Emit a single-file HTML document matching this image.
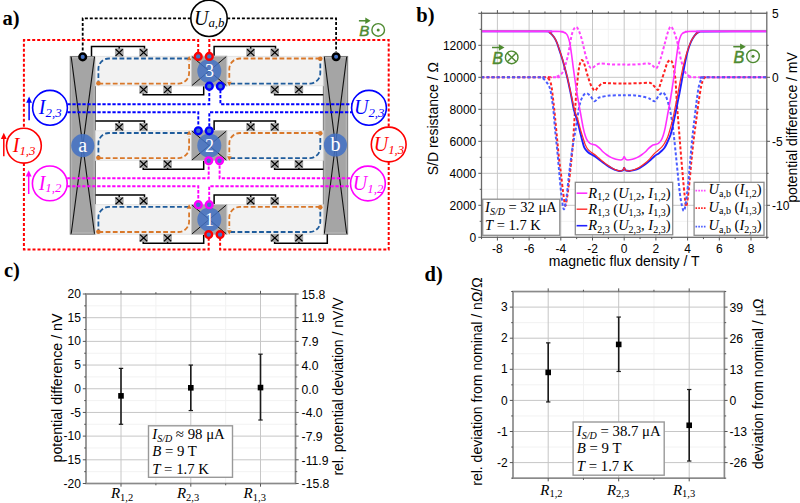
<!DOCTYPE html>
<html><head><meta charset="utf-8"><style>
html,body{margin:0;padding:0;background:#fff;width:800px;height:503px;overflow:hidden}
svg{display:block}
</style></head><body>
<svg width="800" height="503" viewBox="0 0 800 503">
<rect width="800" height="503" fill="#fff"/>
<line x1="513.25" y1="13.3" x2="513.25" y2="237.3" stroke="#f2f2f2" stroke-width="1" />
<line x1="544.95" y1="13.3" x2="544.95" y2="237.3" stroke="#f2f2f2" stroke-width="1" />
<line x1="576.65" y1="13.3" x2="576.65" y2="237.3" stroke="#f2f2f2" stroke-width="1" />
<line x1="608.35" y1="13.3" x2="608.35" y2="237.3" stroke="#f2f2f2" stroke-width="1" />
<line x1="640.05" y1="13.3" x2="640.05" y2="237.3" stroke="#f2f2f2" stroke-width="1" />
<line x1="671.75" y1="13.3" x2="671.75" y2="237.3" stroke="#f2f2f2" stroke-width="1" />
<line x1="703.45" y1="13.3" x2="703.45" y2="237.3" stroke="#f2f2f2" stroke-width="1" />
<line x1="735.15" y1="13.3" x2="735.15" y2="237.3" stroke="#f2f2f2" stroke-width="1" />
<line x1="481.5" y1="221.3" x2="766.8" y2="221.3" stroke="#f2f2f2" stroke-width="1" />
<line x1="481.5" y1="189.3" x2="766.8" y2="189.3" stroke="#f2f2f2" stroke-width="1" />
<line x1="481.5" y1="157.3" x2="766.8" y2="157.3" stroke="#f2f2f2" stroke-width="1" />
<line x1="481.5" y1="125.3" x2="766.8" y2="125.3" stroke="#f2f2f2" stroke-width="1" />
<line x1="481.5" y1="93.3" x2="766.8" y2="93.3" stroke="#f2f2f2" stroke-width="1" />
<line x1="481.5" y1="61.3" x2="766.8" y2="61.3" stroke="#f2f2f2" stroke-width="1" />
<line x1="481.5" y1="29.3" x2="766.8" y2="29.3" stroke="#f2f2f2" stroke-width="1" />
<line x1="497.4" y1="13.3" x2="497.4" y2="237.3" stroke="#c6c6c6" stroke-width="1" />
<line x1="529.1" y1="13.3" x2="529.1" y2="237.3" stroke="#c6c6c6" stroke-width="1" />
<line x1="560.8" y1="13.3" x2="560.8" y2="237.3" stroke="#c6c6c6" stroke-width="1" />
<line x1="592.5" y1="13.3" x2="592.5" y2="237.3" stroke="#c6c6c6" stroke-width="1" />
<line x1="624.2" y1="13.3" x2="624.2" y2="237.3" stroke="#c6c6c6" stroke-width="1" />
<line x1="655.9" y1="13.3" x2="655.9" y2="237.3" stroke="#c6c6c6" stroke-width="1" />
<line x1="687.6" y1="13.3" x2="687.6" y2="237.3" stroke="#c6c6c6" stroke-width="1" />
<line x1="719.3" y1="13.3" x2="719.3" y2="237.3" stroke="#c6c6c6" stroke-width="1" />
<line x1="751" y1="13.3" x2="751" y2="237.3" stroke="#c6c6c6" stroke-width="1" />
<line x1="481.5" y1="205.3" x2="766.8" y2="205.3" stroke="#c6c6c6" stroke-width="1" />
<line x1="481.5" y1="173.3" x2="766.8" y2="173.3" stroke="#c6c6c6" stroke-width="1" />
<line x1="481.5" y1="141.3" x2="766.8" y2="141.3" stroke="#c6c6c6" stroke-width="1" />
<line x1="481.5" y1="109.3" x2="766.8" y2="109.3" stroke="#c6c6c6" stroke-width="1" />
<line x1="481.5" y1="77.3" x2="766.8" y2="77.3" stroke="#c6c6c6" stroke-width="1" />
<line x1="481.5" y1="45.3" x2="766.8" y2="45.3" stroke="#c6c6c6" stroke-width="1" />
<line x1="481.5" y1="13.3" x2="766.8" y2="13.3" stroke="#c6c6c6" stroke-width="1" />
<g fill="none" stroke-linejoin="round">
<path d="M481.5,77.3 C493.42,77.3 540.58,77.35 553,77.3 C565.42,77.25 555,77.28 556,77 C557,76.72 557.83,76.52 559,75.6 C560.17,74.68 561.53,74.73 563,71.5 C564.47,68.27 566.3,62.47 567.8,56.2 C569.3,49.93 570.57,38.77 572,33.9 C573.43,29.03 574.9,26.53 576.4,27 C577.9,27.47 579.48,32.07 581,36.7 C582.52,41.33 584.13,49.93 585.5,54.8 C586.87,59.67 588.17,63.67 589.2,65.9 C590.23,68.13 590.73,68.18 591.7,68.2 C592.67,68.22 593.65,66.77 595,66 C596.35,65.23 597.3,63.88 599.8,63.6 C602.3,63.32 606.63,64.13 610,64.3 C613.37,64.47 617.63,64.55 620,64.6 C622.37,64.65 622.53,64.6 624.2,64.6 C625.87,64.6 627.37,64.67 630,64.6 C632.63,64.53 636.95,64.4 640,64.2 C643.05,64 646.22,63.18 648.3,63.4 C650.38,63.62 651.13,64.7 652.5,65.5 C653.87,66.3 655.17,69.28 656.5,68.2 C657.83,67.12 659.13,63.07 660.5,59 C661.87,54.93 663.45,48.3 664.7,43.8 C665.95,39.3 666.88,34.85 668,32 C669.12,29.15 669.97,25.47 671.4,26.7 C672.83,27.93 674.98,33.82 676.6,39.4 C678.22,44.98 679.6,54.62 681.1,60.2 C682.6,65.78 684.12,70.22 685.6,72.9 C687.08,75.58 688.43,75.57 690,76.3 C691.57,77.03 682.2,77.13 695,77.3 C707.8,77.47 754.83,77.3 766.8,77.3" stroke="#ff44ff" stroke-width="2" stroke-dasharray="3 2.1"/>
<path d="M481.5,77.3 C492.08,77.3 533.87,77.08 545,77.3 C556.13,77.52 547.3,77.48 548.3,78.6 C549.3,79.72 550.18,80.43 551,84 C551.82,87.57 552.53,94.5 553.2,100 C553.87,105.5 554.33,110.33 555,117 C555.67,123.67 556.5,132.83 557.2,140 C557.9,147.17 558.57,154.33 559.2,160 C559.83,165.67 560.35,168.63 561,174 C561.65,179.37 562.38,186.93 563.1,192.2 C563.82,197.47 564.65,204.63 565.3,205.6 C565.95,206.57 566.45,201.27 567,198 C567.55,194.73 568.05,190.67 568.6,186 C569.15,181.33 569.8,174.67 570.3,170 C570.8,165.33 571.15,162.5 571.6,158 C572.05,153.5 572.55,149 573,143 C573.45,137 573.87,128.83 574.3,122 C574.73,115.17 575.15,108.17 575.6,102 C576.05,95.83 576.43,90.67 577,85 C577.57,79.33 578.37,71.92 579,68 C579.63,64.08 580.23,62.78 580.8,61.5 C581.37,60.22 581.82,59.88 582.4,60.3 C582.98,60.72 583.43,61.45 584.3,64 C585.17,66.55 586.57,72.23 587.6,75.6 C588.63,78.97 589.55,81.9 590.5,84.2 C591.45,86.5 592.52,88.33 593.3,89.4 C594.08,90.47 594.45,90.92 595.2,90.6 C595.95,90.28 596.57,88.73 597.8,87.5 C599.03,86.27 600.57,83.9 602.6,83.2 C604.63,82.5 607.1,83.25 610,83.3 C612.9,83.35 617.63,83.47 620,83.5 C622.37,83.53 622.53,83.52 624.2,83.5 C625.87,83.48 627.37,83.45 630,83.4 C632.63,83.35 636.7,83.3 640,83.2 C643.3,83.1 647.47,82.33 649.8,82.8 C652.13,83.27 652.63,84.83 654,86 C655.37,87.17 656.83,90.47 658,89.8 C659.17,89.13 659.88,85.18 661,82 C662.12,78.82 663.62,73.95 664.7,70.7 C665.78,67.45 666.5,64.25 667.5,62.5 C668.5,60.75 669.78,59.78 670.7,60.2 C671.62,60.62 672.27,62.27 673,65 C673.73,67.73 674.6,72.77 675.1,76.6 C675.6,80.43 675.65,82.77 676,88 C676.35,93.23 676.77,101.83 677.2,108 C677.63,114.17 678.17,119.67 678.6,125 C679.03,130.33 679.38,134.75 679.8,140 C680.22,145.25 680.6,150.5 681.1,156.5 C681.6,162.5 682.22,169.58 682.8,176 C683.38,182.42 684.05,189.93 684.6,195 C685.15,200.07 685.57,205.9 686.1,206.4 C686.63,206.9 687.23,202.07 687.8,198 C688.37,193.93 688.88,188.33 689.5,182 C690.12,175.67 690.82,167 691.5,160 C692.18,153 692.92,145.83 693.6,140 C694.28,134.17 695.05,129.17 695.6,125 C696.15,120.83 696.35,119.17 696.9,115 C697.45,110.83 698.18,104.83 698.9,100 C699.62,95.17 700.52,89.33 701.2,86 C701.88,82.67 702.37,81.42 703,80 C703.63,78.58 704.33,77.95 705,77.5 C705.67,77.05 696.7,77.33 707,77.3 C717.3,77.27 756.83,77.3 766.8,77.3" stroke="#ff2020" stroke-width="2" stroke-dasharray="3 2.1"/>
<path d="M481.5,77.3 C491.08,77.3 529,77.22 539,77.3 C549,77.38 540.75,77.55 541.5,77.8 C542.25,78.05 542.75,78.18 543.5,78.8 C544.25,79.42 545.18,80.47 546,81.5 C546.82,82.53 547.67,83.58 548.4,85 C549.13,86.42 549.8,87.5 550.4,90 C551,92.5 551.5,96.67 552,100 C552.5,103.33 552.88,105 553.4,110 C553.92,115 554.47,123.33 555.1,130 C555.73,136.67 556.52,143 557.2,150 C557.88,157 558.52,164.67 559.2,172 C559.88,179.33 560.53,187.78 561.3,194 C562.07,200.22 562.95,208.63 563.8,209.3 C564.65,209.97 565.63,202.88 566.4,198 C567.17,193.12 567.75,185.67 568.4,180 C569.05,174.33 569.7,168.83 570.3,164 C570.9,159.17 571.45,154.83 572,151 C572.55,147.17 572.9,145.18 573.6,141 C574.3,136.82 575.2,131.9 576.2,125.9 C577.2,119.9 578.47,109.98 579.6,105 C580.73,100.02 581.83,97.95 583,96 C584.17,94.05 585.35,93.27 586.6,93.3 C587.85,93.33 589.22,94.88 590.5,96.2 C591.78,97.52 593.13,100.77 594.3,101.2 C595.47,101.63 596.55,99.45 597.5,98.8 C598.45,98.15 598,97.83 600,97.3 C602,96.77 606.17,95.93 609.5,95.6 C612.83,95.27 617.55,95.35 620,95.3 C622.45,95.25 621.72,95.28 624.2,95.3 C626.68,95.32 631.13,95.02 634.9,95.4 C638.67,95.78 644.12,96.92 646.8,97.6 C649.48,98.28 649.63,98.9 651,99.5 C652.37,100.1 653.75,101.78 655,101.2 C656.25,100.62 657.25,97.45 658.5,96 C659.75,94.55 661.33,92.58 662.5,92.5 C663.67,92.42 664.63,94.02 665.5,95.5 C666.37,96.98 666.95,98.98 667.7,101.4 C668.45,103.82 669.25,106.52 670,110 C670.75,113.48 671.53,117.8 672.2,122.3 C672.87,126.8 673.38,131.55 674,137 C674.62,142.45 675.27,148.83 675.9,155 C676.53,161.17 677.15,167.67 677.8,174 C678.45,180.33 679.13,187.83 679.8,193 C680.47,198.17 681.12,202.02 681.8,205 C682.48,207.98 683.2,211.4 683.9,210.9 C684.6,210.4 685.32,206.32 686,202 C686.68,197.68 687.33,191.5 688,185 C688.67,178.5 689.32,170.5 690,163 C690.68,155.5 691.53,145.83 692.1,140 C692.67,134.17 692.98,131.7 693.4,128 C693.82,124.3 694.08,122.13 694.6,117.8 C695.12,113.47 695.85,106.97 696.5,102 C697.15,97.03 697.83,91.5 698.5,88 C699.17,84.5 699.83,82.63 700.5,81 C701.17,79.37 701.75,78.82 702.5,78.2 C703.25,77.58 694.28,77.45 705,77.3 C715.72,77.15 756.5,77.3 766.8,77.3" stroke="#4a5cff" stroke-width="2" stroke-dasharray="3 2.1"/>
<path d="M481.5,31.4 C492.25,31.4 534.67,31.22 546,31.4 C557.33,31.58 548.18,31.57 549.5,32.5 C550.82,33.43 552.68,35.33 553.9,37 C555.12,38.67 555.87,40.27 556.8,42.5 C557.73,44.73 558.58,47.65 559.5,50.4 C560.42,53.15 561.38,55.95 562.3,59 C563.22,62.05 564.12,65.37 565,68.7 C565.88,72.03 566.78,75.53 567.6,79 C568.42,82.47 569.17,86 569.9,89.5 C570.63,93 571.3,96.48 572,100 C572.7,103.52 573.17,106.98 574.1,110.6 C575.03,114.22 576.68,118.47 577.6,121.7 C578.52,124.93 578.92,127.22 579.6,130 C580.28,132.78 580.97,135.6 581.7,138.4 C582.43,141.2 583.2,144.77 584,146.8 C584.8,148.83 585.63,149.55 586.5,150.6 C587.37,151.65 588,152.27 589.2,153.1 C590.4,153.93 592.23,154.65 593.7,155.6 C595.17,156.55 596.52,157.68 598,158.8 C599.48,159.92 601.1,161.2 602.6,162.3 C604.1,163.4 605.52,164.43 607,165.4 C608.48,166.37 610.17,167.37 611.5,168.1 C612.83,168.83 613.75,169.32 615,169.8 C616.25,170.28 617.7,170.9 619,171 C620.3,171.1 621.93,170.93 622.8,170.4 C623.67,169.87 623.73,167.8 624.2,167.8 C624.67,167.8 624.72,169.87 625.6,170.4 C626.48,170.93 628.1,171.03 629.5,171 C630.9,170.97 632.42,170.65 634,170.2 C635.58,169.75 637.17,169.25 639,168.3 C640.83,167.35 643.2,165.78 645,164.5 C646.8,163.22 648.22,161.98 649.8,160.6 C651.38,159.22 653.02,157.4 654.5,156.2 C655.98,155 657.45,154.35 658.7,153.4 C659.95,152.45 661,151.5 662,150.5 C663,149.5 663.78,148.82 664.7,147.4 C665.62,145.98 666.5,144.2 667.5,142 C668.5,139.8 669.78,137.03 670.7,134.2 C671.62,131.37 672.27,128.23 673,125 C673.73,121.77 674.35,118.47 675.1,114.8 C675.85,111.13 676.75,106.72 677.5,103 C678.25,99.28 678.75,97 679.6,92.5 C680.45,88 681.67,81.08 682.6,76 C683.53,70.92 684.33,66.2 685.2,62 C686.07,57.8 686.92,53.97 687.8,50.8 C688.68,47.63 689.63,45.13 690.5,43 C691.37,40.87 692.08,39.5 693,38 C693.92,36.5 695,34.97 696,34 C697,33.03 698,32.62 699,32.2 C700,31.78 690.7,31.63 702,31.5 C713.3,31.37 756,31.42 766.8,31.4" stroke="#2020ff" stroke-width="1.9"/>
<path d="M481.5,31.4 C492.25,31.4 534.67,31.23 546,31.4 C557.33,31.57 548.18,31.5 549.5,32.4 C550.82,33.3 552.68,35.17 553.9,36.8 C555.12,38.43 555.87,40 556.8,42.2 C557.73,44.4 558.58,47.28 559.5,50 C560.42,52.72 561.38,55.47 562.3,58.5 C563.22,61.53 564.12,64.87 565,68.2 C565.88,71.53 566.78,75.03 567.6,78.5 C568.42,81.97 569.13,85.5 569.9,89 C570.67,92.5 571.43,96.03 572.2,99.5 C572.97,102.97 573.5,106.25 574.5,109.8 C575.5,113.35 577.18,117.43 578.2,120.8 C579.22,124.17 579.78,127.13 580.6,130 C581.42,132.87 582.33,135.58 583.1,138 C583.87,140.42 584.47,142.7 585.2,144.5 C585.93,146.3 586.58,147.57 587.5,148.8 C588.42,150.03 589.52,150.93 590.7,151.9 C591.88,152.87 593.3,153.62 594.6,154.6 C595.9,155.58 597.13,156.65 598.5,157.8 C599.87,158.95 601.38,160.33 602.8,161.5 C604.22,162.67 605.55,163.77 607,164.8 C608.45,165.83 610.17,166.92 611.5,167.7 C612.83,168.48 613.75,168.98 615,169.5 C616.25,170.02 617.7,170.68 619,170.8 C620.3,170.92 621.93,170.73 622.8,170.2 C623.67,169.67 623.73,167.6 624.2,167.6 C624.67,167.6 624.72,169.67 625.6,170.2 C626.48,170.73 628.1,170.88 629.5,170.8 C630.9,170.72 632.42,170.25 634,169.7 C635.58,169.15 637.17,168.58 639,167.5 C640.83,166.42 643.2,164.65 645,163.2 C646.8,161.75 648.25,160.4 649.8,158.8 C651.35,157.2 652.93,154.98 654.3,153.6 C655.67,152.22 656.77,151.57 658,150.5 C659.23,149.43 660.58,148.45 661.7,147.2 C662.82,145.95 663.7,144.7 664.7,143 C665.7,141.3 666.7,139.67 667.7,137 C668.7,134.33 669.7,130.7 670.7,127 C671.7,123.3 672.82,118.8 673.7,114.8 C674.58,110.8 675.27,106.72 676,103 C676.73,99.28 677.33,96.5 678.1,92.5 C678.87,88.5 679.85,82.88 680.6,79 C681.35,75.12 681.83,72.62 682.6,69.2 C683.37,65.78 684.33,61.73 685.2,58.5 C686.07,55.27 686.92,52.47 687.8,49.8 C688.68,47.13 689.63,44.48 690.5,42.5 C691.37,40.52 692.08,39.32 693,37.9 C693.92,36.48 695,34.98 696,34 C697,33.02 698,32.42 699,32 C700,31.58 690.7,31.6 702,31.5 C713.3,31.4 756,31.42 766.8,31.4" stroke="#ff2a2a" stroke-width="1.2"/>
<path d="M481.5,31.4 C493.92,31.4 542.83,31.37 556,31.4 C569.17,31.43 559.23,31.45 560.5,31.6 C561.77,31.75 562.68,31.98 563.6,32.3 C564.52,32.62 565.3,32.85 566,33.5 C566.7,34.15 567.2,34.78 567.8,36.2 C568.4,37.62 568.98,39.03 569.6,42 C570.22,44.97 570.87,49.55 571.5,54 C572.13,58.45 572.82,64.37 573.4,68.7 C573.98,73.03 574.5,76.53 575,80 C575.5,83.47 575.85,86 576.4,89.5 C576.95,93 577.65,97.25 578.3,101 C578.95,104.75 579.5,107.62 580.3,112 C581.1,116.38 582.28,123.38 583.1,127.3 C583.92,131.22 584.5,133.32 585.2,135.5 C585.9,137.68 586.5,139.1 587.3,140.4 C588.1,141.7 588.97,142.62 590,143.3 C591.03,143.98 592.47,144.13 593.5,144.5 C594.53,144.87 595.15,144.85 596.2,145.5 C597.25,146.15 598.73,147.4 599.8,148.4 C600.87,149.4 601.4,150.4 602.6,151.5 C603.8,152.6 605.52,153.98 607,155 C608.48,156.02 610,156.9 611.5,157.6 C613,158.3 614.5,158.8 616,159.2 C617.5,159.6 619.37,160 620.5,160 C621.63,160 622.18,159.77 622.8,159.2 C623.42,158.63 623.73,156.6 624.2,156.6 C624.67,156.6 624.98,158.63 625.6,159.2 C626.22,159.77 626.77,160 627.9,160 C629.03,160 630.9,159.6 632.4,159.2 C633.9,158.8 635.4,158.3 636.9,157.6 C638.4,156.9 639.92,156.02 641.4,155 C642.88,153.98 644.6,152.6 645.8,151.5 C647,150.4 647.53,149.4 648.6,148.4 C649.67,147.4 651.15,146.15 652.2,145.5 C653.25,144.85 653.87,144.87 654.9,144.5 C655.93,144.13 657.37,143.98 658.4,143.3 C659.43,142.62 660.3,141.7 661.1,140.4 C661.9,139.1 662.5,137.68 663.2,135.5 C663.9,133.32 664.48,131.22 665.3,127.3 C666.12,123.38 667.3,116.38 668.1,112 C668.9,107.62 669.45,104.75 670.1,101 C670.75,97.25 671.45,93 672,89.5 C672.55,86 672.9,83.47 673.4,80 C673.9,76.53 674.42,73.03 675,68.7 C675.58,64.37 676.27,58.45 676.9,54 C677.53,49.55 678.18,44.97 678.8,42 C679.42,39.03 680,37.62 680.6,36.2 C681.2,34.78 681.7,34.15 682.4,33.5 C683.1,32.85 683.88,32.62 684.8,32.3 C685.72,31.98 686.63,31.75 687.9,31.6 C689.17,31.45 679.23,31.43 692.4,31.4 C705.57,31.37 754.48,31.4 766.9,31.4" stroke="#ff30ff" stroke-width="1.6"/>
</g>
<rect x="481.5" y="13.3" width="285.3" height="224" fill="none" stroke="#6a6a6a" stroke-width="1.3"/>
<line x1="481.55" y1="237.3" x2="481.55" y2="239.1" stroke="#555" stroke-width="1" />
<line x1="481.55" y1="13.3" x2="481.55" y2="11.5" stroke="#555" stroke-width="1" />
<line x1="497.4" y1="237.3" x2="497.4" y2="240.5" stroke="#555" stroke-width="1" />
<line x1="497.4" y1="13.3" x2="497.4" y2="10.1" stroke="#555" stroke-width="1" />
<line x1="513.25" y1="237.3" x2="513.25" y2="239.1" stroke="#555" stroke-width="1" />
<line x1="513.25" y1="13.3" x2="513.25" y2="11.5" stroke="#555" stroke-width="1" />
<line x1="529.1" y1="237.3" x2="529.1" y2="240.5" stroke="#555" stroke-width="1" />
<line x1="529.1" y1="13.3" x2="529.1" y2="10.1" stroke="#555" stroke-width="1" />
<line x1="544.95" y1="237.3" x2="544.95" y2="239.1" stroke="#555" stroke-width="1" />
<line x1="544.95" y1="13.3" x2="544.95" y2="11.5" stroke="#555" stroke-width="1" />
<line x1="560.8" y1="237.3" x2="560.8" y2="240.5" stroke="#555" stroke-width="1" />
<line x1="560.8" y1="13.3" x2="560.8" y2="10.1" stroke="#555" stroke-width="1" />
<line x1="576.65" y1="237.3" x2="576.65" y2="239.1" stroke="#555" stroke-width="1" />
<line x1="576.65" y1="13.3" x2="576.65" y2="11.5" stroke="#555" stroke-width="1" />
<line x1="592.5" y1="237.3" x2="592.5" y2="240.5" stroke="#555" stroke-width="1" />
<line x1="592.5" y1="13.3" x2="592.5" y2="10.1" stroke="#555" stroke-width="1" />
<line x1="608.35" y1="237.3" x2="608.35" y2="239.1" stroke="#555" stroke-width="1" />
<line x1="608.35" y1="13.3" x2="608.35" y2="11.5" stroke="#555" stroke-width="1" />
<line x1="624.2" y1="237.3" x2="624.2" y2="240.5" stroke="#555" stroke-width="1" />
<line x1="624.2" y1="13.3" x2="624.2" y2="10.1" stroke="#555" stroke-width="1" />
<line x1="640.05" y1="237.3" x2="640.05" y2="239.1" stroke="#555" stroke-width="1" />
<line x1="640.05" y1="13.3" x2="640.05" y2="11.5" stroke="#555" stroke-width="1" />
<line x1="655.9" y1="237.3" x2="655.9" y2="240.5" stroke="#555" stroke-width="1" />
<line x1="655.9" y1="13.3" x2="655.9" y2="10.1" stroke="#555" stroke-width="1" />
<line x1="671.75" y1="237.3" x2="671.75" y2="239.1" stroke="#555" stroke-width="1" />
<line x1="671.75" y1="13.3" x2="671.75" y2="11.5" stroke="#555" stroke-width="1" />
<line x1="687.6" y1="237.3" x2="687.6" y2="240.5" stroke="#555" stroke-width="1" />
<line x1="687.6" y1="13.3" x2="687.6" y2="10.1" stroke="#555" stroke-width="1" />
<line x1="703.45" y1="237.3" x2="703.45" y2="239.1" stroke="#555" stroke-width="1" />
<line x1="703.45" y1="13.3" x2="703.45" y2="11.5" stroke="#555" stroke-width="1" />
<line x1="719.3" y1="237.3" x2="719.3" y2="240.5" stroke="#555" stroke-width="1" />
<line x1="719.3" y1="13.3" x2="719.3" y2="10.1" stroke="#555" stroke-width="1" />
<line x1="735.15" y1="237.3" x2="735.15" y2="239.1" stroke="#555" stroke-width="1" />
<line x1="735.15" y1="13.3" x2="735.15" y2="11.5" stroke="#555" stroke-width="1" />
<line x1="751" y1="237.3" x2="751" y2="240.5" stroke="#555" stroke-width="1" />
<line x1="751" y1="13.3" x2="751" y2="10.1" stroke="#555" stroke-width="1" />
<line x1="766.85" y1="237.3" x2="766.85" y2="239.1" stroke="#555" stroke-width="1" />
<line x1="766.85" y1="13.3" x2="766.85" y2="11.5" stroke="#555" stroke-width="1" />
<line x1="481.5" y1="237.3" x2="478.3" y2="237.3" stroke="#555" stroke-width="1" />
<line x1="481.5" y1="221.3" x2="479.7" y2="221.3" stroke="#555" stroke-width="1" />
<line x1="481.5" y1="205.3" x2="478.3" y2="205.3" stroke="#555" stroke-width="1" />
<line x1="481.5" y1="189.3" x2="479.7" y2="189.3" stroke="#555" stroke-width="1" />
<line x1="481.5" y1="173.3" x2="478.3" y2="173.3" stroke="#555" stroke-width="1" />
<line x1="481.5" y1="157.3" x2="479.7" y2="157.3" stroke="#555" stroke-width="1" />
<line x1="481.5" y1="141.3" x2="478.3" y2="141.3" stroke="#555" stroke-width="1" />
<line x1="481.5" y1="125.3" x2="479.7" y2="125.3" stroke="#555" stroke-width="1" />
<line x1="481.5" y1="109.3" x2="478.3" y2="109.3" stroke="#555" stroke-width="1" />
<line x1="481.5" y1="93.3" x2="479.7" y2="93.3" stroke="#555" stroke-width="1" />
<line x1="481.5" y1="77.3" x2="478.3" y2="77.3" stroke="#555" stroke-width="1" />
<line x1="481.5" y1="61.3" x2="479.7" y2="61.3" stroke="#555" stroke-width="1" />
<line x1="481.5" y1="45.3" x2="478.3" y2="45.3" stroke="#555" stroke-width="1" />
<line x1="481.5" y1="29.3" x2="479.7" y2="29.3" stroke="#555" stroke-width="1" />
<line x1="481.5" y1="13.3" x2="478.3" y2="13.3" stroke="#555" stroke-width="1" />
<line x1="766.8" y1="237.3" x2="768.6" y2="237.3" stroke="#555" stroke-width="1" />
<line x1="766.8" y1="205.3" x2="770" y2="205.3" stroke="#555" stroke-width="1" />
<line x1="766.8" y1="173.3" x2="768.6" y2="173.3" stroke="#555" stroke-width="1" />
<line x1="766.8" y1="141.3" x2="770" y2="141.3" stroke="#555" stroke-width="1" />
<line x1="766.8" y1="109.3" x2="768.6" y2="109.3" stroke="#555" stroke-width="1" />
<line x1="766.8" y1="77.3" x2="770" y2="77.3" stroke="#555" stroke-width="1" />
<line x1="766.8" y1="45.3" x2="768.6" y2="45.3" stroke="#555" stroke-width="1" />
<text x="497.4" y="252.8" font-size="12" font-family='"Liberation Sans", sans-serif' text-anchor="middle" fill="#000" >-8</text>
<text x="529.1" y="252.8" font-size="12" font-family='"Liberation Sans", sans-serif' text-anchor="middle" fill="#000" >-6</text>
<text x="560.8" y="252.8" font-size="12" font-family='"Liberation Sans", sans-serif' text-anchor="middle" fill="#000" >-4</text>
<text x="592.5" y="252.8" font-size="12" font-family='"Liberation Sans", sans-serif' text-anchor="middle" fill="#000" >-2</text>
<text x="624.2" y="252.8" font-size="12" font-family='"Liberation Sans", sans-serif' text-anchor="middle" fill="#000" >0</text>
<text x="655.9" y="252.8" font-size="12" font-family='"Liberation Sans", sans-serif' text-anchor="middle" fill="#000" >2</text>
<text x="687.6" y="252.8" font-size="12" font-family='"Liberation Sans", sans-serif' text-anchor="middle" fill="#000" >4</text>
<text x="719.3" y="252.8" font-size="12" font-family='"Liberation Sans", sans-serif' text-anchor="middle" fill="#000" >6</text>
<text x="751" y="252.8" font-size="12" font-family='"Liberation Sans", sans-serif' text-anchor="middle" fill="#000" >8</text>
<text x="476.3" y="242.2" font-size="12" font-family='"Liberation Sans", sans-serif' text-anchor="end" fill="#000" >0</text>
<text x="476.3" y="210.2" font-size="12" font-family='"Liberation Sans", sans-serif' text-anchor="end" fill="#000" >2000</text>
<text x="476.3" y="178.2" font-size="12" font-family='"Liberation Sans", sans-serif' text-anchor="end" fill="#000" >4000</text>
<text x="476.3" y="146.2" font-size="12" font-family='"Liberation Sans", sans-serif' text-anchor="end" fill="#000" >6000</text>
<text x="476.3" y="114.2" font-size="12" font-family='"Liberation Sans", sans-serif' text-anchor="end" fill="#000" >8000</text>
<text x="476.3" y="82.2" font-size="12" font-family='"Liberation Sans", sans-serif' text-anchor="end" fill="#000" >10000</text>
<text x="476.3" y="50.2" font-size="12" font-family='"Liberation Sans", sans-serif' text-anchor="end" fill="#000" >12000</text>
<text x="772" y="18.4" font-size="12" font-family='"Liberation Sans", sans-serif' text-anchor="start" fill="#000" >5</text>
<text x="772" y="82.4" font-size="12" font-family='"Liberation Sans", sans-serif' text-anchor="start" fill="#000" >0</text>
<text x="772" y="146.4" font-size="12" font-family='"Liberation Sans", sans-serif' text-anchor="start" fill="#000" >-5</text>
<text x="772" y="210.4" font-size="12" font-family='"Liberation Sans", sans-serif' text-anchor="start" fill="#000" >-10</text>
<text x="624.2" y="265.5" font-size="14" font-family='"Liberation Sans", sans-serif' text-anchor="middle" fill="#000" >magnetic flux density / T</text>
<text x="0" y="0" font-size="14" font-family='"Liberation Sans", sans-serif' text-anchor="middle" fill="#000" transform="translate(438.2,118.7) rotate(-90)">S/D resistance / &#937;</text>
<text x="0" y="0" font-size="14" font-family='"Liberation Sans", sans-serif' text-anchor="middle" fill="#000" transform="translate(796.5,127.5) rotate(-90)">potential difference / mV</text>
<rect x="575.3" y="182.3" width="97.4" height="52.5" fill="#fff" stroke="#8c8c8c" stroke-width="1.3"/>
<line x1="576.6" y1="193.2" x2="587.3" y2="193.2" stroke="#ff30ff" stroke-width="1.6" />
<text x="588.3" y="197.6" font-size="14.5" font-family='"Liberation Serif", serif'><tspan font-style="italic">R</tspan><tspan font-size="10" dy="2.5">1,2</tspan><tspan dy="-2.5"> (</tspan><tspan font-style="italic">U</tspan><tspan font-size="10" dy="2.5">1,2</tspan><tspan dy="-2.5">, </tspan><tspan font-style="italic">I</tspan><tspan font-size="10" dy="2.5">1,2</tspan><tspan dy="-2.5">)</tspan></text>
<line x1="576.6" y1="209.2" x2="587.3" y2="209.2" stroke="#ff2a2a" stroke-width="1.4" />
<text x="588.3" y="213.6" font-size="14.5" font-family='"Liberation Serif", serif'><tspan font-style="italic">R</tspan><tspan font-size="10" dy="2.5">1,3</tspan><tspan dy="-2.5"> (</tspan><tspan font-style="italic">U</tspan><tspan font-size="10" dy="2.5">1,3</tspan><tspan dy="-2.5">, </tspan><tspan font-style="italic">I</tspan><tspan font-size="10" dy="2.5">1,3</tspan><tspan dy="-2.5">)</tspan></text>
<line x1="576.6" y1="225.7" x2="587.3" y2="225.7" stroke="#2020ff" stroke-width="1.6" />
<text x="588.3" y="230.1" font-size="14.5" font-family='"Liberation Serif", serif'><tspan font-style="italic">R</tspan><tspan font-size="10" dy="2.5">2,3</tspan><tspan dy="-2.5"> (</tspan><tspan font-style="italic">U</tspan><tspan font-size="10" dy="2.5">2,3</tspan><tspan dy="-2.5">, </tspan><tspan font-style="italic">I</tspan><tspan font-size="10" dy="2.5">2,3</tspan><tspan dy="-2.5">)</tspan></text>
<rect x="694.1" y="182.3" width="69.9" height="53" fill="#fff" stroke="#8c8c8c" stroke-width="1.3"/>
<line x1="695.5" y1="190.7" x2="706.6" y2="190.7" stroke="#ff44ff" stroke-width="1.8" stroke-dasharray="1.6 1.2"/>
<text x="708.5" y="194.1" font-size="14.5" font-family='"Liberation Serif", serif'><tspan font-style="italic">U</tspan><tspan font-size="10" dy="2.5">a,b</tspan><tspan dy="-2.5"> (</tspan><tspan font-style="italic">I</tspan><tspan font-size="10" dy="2.5">1,2</tspan><tspan dy="-2.5">)</tspan></text>
<line x1="695.5" y1="208.2" x2="706.6" y2="208.2" stroke="#ff2020" stroke-width="1.8" stroke-dasharray="1.6 1.2"/>
<text x="708.5" y="211.6" font-size="14.5" font-family='"Liberation Serif", serif'><tspan font-style="italic">U</tspan><tspan font-size="10" dy="2.5">a,b</tspan><tspan dy="-2.5"> (</tspan><tspan font-style="italic">I</tspan><tspan font-size="10" dy="2.5">1,3</tspan><tspan dy="-2.5">)</tspan></text>
<line x1="695.5" y1="226.7" x2="706.6" y2="226.7" stroke="#4a5cff" stroke-width="1.8" stroke-dasharray="1.6 1.2"/>
<text x="708.5" y="230.1" font-size="14.5" font-family='"Liberation Serif", serif'><tspan font-style="italic">U</tspan><tspan font-size="10" dy="2.5">a,b</tspan><tspan dy="-2.5"> (</tspan><tspan font-style="italic">I</tspan><tspan font-size="10" dy="2.5">2,3</tspan><tspan dy="-2.5">)</tspan></text>
<rect x="482.7" y="199.2" width="77.1" height="36.1" fill="#fff" stroke="#8c8c8c" stroke-width="1.3"/>
<text x="485.1" y="212.4" font-size="14.5" font-family='"Liberation Serif", serif'><tspan font-style="italic">I</tspan><tspan font-size="10" font-style="italic" dy="3">S/D</tspan><tspan dy="-3"> = 32 &#956;A</tspan></text>
<text x="485.1" y="229.7" font-size="14.5" font-family='"Liberation Serif", serif'><tspan font-style="italic">T</tspan> = 1.7 K</text>
<text x="492.3" y="63.6" font-size="16.2" font-style="italic" font-family='"Liberation Sans", sans-serif' fill="#4e8a30" stroke="#4e8a30" stroke-width="0.45">B</text>
<line x1="492" y1="47.5" x2="501.8" y2="47.5" stroke="#4e8a30" stroke-width="1.5"/>
<path d="M504.5,47.5 L498.8,44.3 L498.8,50.7 Z" fill="#4e8a30"/>
<circle cx="511.7" cy="57.4" r="6.3" fill="none" stroke="#4e8a30" stroke-width="1.4"/>
<path d="M507.25,52.95 L516.15,61.85 M507.25,61.85 L516.15,52.95" stroke="#4e8a30" stroke-width="1.4"/>
<text x="733.6" y="62.8" font-size="16.2" font-style="italic" font-family='"Liberation Sans", sans-serif' fill="#4e8a30" stroke="#4e8a30" stroke-width="0.45">B</text>
<line x1="733.3" y1="46.7" x2="743.1" y2="46.7" stroke="#4e8a30" stroke-width="1.5"/>
<path d="M745.8,46.7 L740.1,43.5 L740.1,49.9 Z" fill="#4e8a30"/>
<circle cx="753" cy="56.3" r="6.3" fill="none" stroke="#4e8a30" stroke-width="1.4"/>
<circle cx="753" cy="56.3" r="1.5" fill="#4e8a30"/>
<line x1="86" y1="471.66" x2="295.5" y2="471.66" stroke="#f2f2f2" stroke-width="1" />
<line x1="86" y1="447.97" x2="295.5" y2="447.97" stroke="#f2f2f2" stroke-width="1" />
<line x1="86" y1="424.28" x2="295.5" y2="424.28" stroke="#f2f2f2" stroke-width="1" />
<line x1="86" y1="400.59" x2="295.5" y2="400.59" stroke="#f2f2f2" stroke-width="1" />
<line x1="86" y1="376.91" x2="295.5" y2="376.91" stroke="#f2f2f2" stroke-width="1" />
<line x1="86" y1="353.22" x2="295.5" y2="353.22" stroke="#f2f2f2" stroke-width="1" />
<line x1="86" y1="329.53" x2="295.5" y2="329.53" stroke="#f2f2f2" stroke-width="1" />
<line x1="86" y1="305.84" x2="295.5" y2="305.84" stroke="#f2f2f2" stroke-width="1" />
<line x1="155.9" y1="294" x2="155.9" y2="483.5" stroke="#f2f2f2" stroke-width="1" />
<line x1="225.7" y1="294" x2="225.7" y2="483.5" stroke="#f2f2f2" stroke-width="1" />
<line x1="86" y1="459.81" x2="295.5" y2="459.81" stroke="#c6c6c6" stroke-width="1" />
<line x1="86" y1="436.12" x2="295.5" y2="436.12" stroke="#c6c6c6" stroke-width="1" />
<line x1="86" y1="412.44" x2="295.5" y2="412.44" stroke="#c6c6c6" stroke-width="1" />
<line x1="86" y1="388.75" x2="295.5" y2="388.75" stroke="#c6c6c6" stroke-width="1" />
<line x1="86" y1="365.06" x2="295.5" y2="365.06" stroke="#c6c6c6" stroke-width="1" />
<line x1="86" y1="341.38" x2="295.5" y2="341.38" stroke="#c6c6c6" stroke-width="1" />
<line x1="86" y1="317.69" x2="295.5" y2="317.69" stroke="#c6c6c6" stroke-width="1" />
<line x1="121" y1="294" x2="121" y2="483.5" stroke="#c6c6c6" stroke-width="1" />
<line x1="190.8" y1="294" x2="190.8" y2="483.5" stroke="#c6c6c6" stroke-width="1" />
<line x1="260.5" y1="294" x2="260.5" y2="483.5" stroke="#c6c6c6" stroke-width="1" />
<rect x="86" y="294" width="209.5" height="189.5" fill="none" stroke="#8a8a8a" stroke-width="1.7"/>
<line x1="86" y1="483.5" x2="82.8" y2="483.5" stroke="#555" stroke-width="1" />
<line x1="295.5" y1="483.5" x2="298.7" y2="483.5" stroke="#555" stroke-width="1" />
<line x1="86" y1="471.66" x2="84.2" y2="471.66" stroke="#555" stroke-width="1" />
<line x1="295.5" y1="471.66" x2="297.3" y2="471.66" stroke="#555" stroke-width="1" />
<line x1="86" y1="459.81" x2="82.8" y2="459.81" stroke="#555" stroke-width="1" />
<line x1="295.5" y1="459.81" x2="298.7" y2="459.81" stroke="#555" stroke-width="1" />
<line x1="86" y1="447.97" x2="84.2" y2="447.97" stroke="#555" stroke-width="1" />
<line x1="295.5" y1="447.97" x2="297.3" y2="447.97" stroke="#555" stroke-width="1" />
<line x1="86" y1="436.12" x2="82.8" y2="436.12" stroke="#555" stroke-width="1" />
<line x1="295.5" y1="436.12" x2="298.7" y2="436.12" stroke="#555" stroke-width="1" />
<line x1="86" y1="424.28" x2="84.2" y2="424.28" stroke="#555" stroke-width="1" />
<line x1="295.5" y1="424.28" x2="297.3" y2="424.28" stroke="#555" stroke-width="1" />
<line x1="86" y1="412.44" x2="82.8" y2="412.44" stroke="#555" stroke-width="1" />
<line x1="295.5" y1="412.44" x2="298.7" y2="412.44" stroke="#555" stroke-width="1" />
<line x1="86" y1="400.59" x2="84.2" y2="400.59" stroke="#555" stroke-width="1" />
<line x1="295.5" y1="400.59" x2="297.3" y2="400.59" stroke="#555" stroke-width="1" />
<line x1="86" y1="388.75" x2="82.8" y2="388.75" stroke="#555" stroke-width="1" />
<line x1="295.5" y1="388.75" x2="298.7" y2="388.75" stroke="#555" stroke-width="1" />
<line x1="86" y1="376.91" x2="84.2" y2="376.91" stroke="#555" stroke-width="1" />
<line x1="295.5" y1="376.91" x2="297.3" y2="376.91" stroke="#555" stroke-width="1" />
<line x1="86" y1="365.06" x2="82.8" y2="365.06" stroke="#555" stroke-width="1" />
<line x1="295.5" y1="365.06" x2="298.7" y2="365.06" stroke="#555" stroke-width="1" />
<line x1="86" y1="353.22" x2="84.2" y2="353.22" stroke="#555" stroke-width="1" />
<line x1="295.5" y1="353.22" x2="297.3" y2="353.22" stroke="#555" stroke-width="1" />
<line x1="86" y1="341.38" x2="82.8" y2="341.38" stroke="#555" stroke-width="1" />
<line x1="295.5" y1="341.38" x2="298.7" y2="341.38" stroke="#555" stroke-width="1" />
<line x1="86" y1="329.53" x2="84.2" y2="329.53" stroke="#555" stroke-width="1" />
<line x1="295.5" y1="329.53" x2="297.3" y2="329.53" stroke="#555" stroke-width="1" />
<line x1="86" y1="317.69" x2="82.8" y2="317.69" stroke="#555" stroke-width="1" />
<line x1="295.5" y1="317.69" x2="298.7" y2="317.69" stroke="#555" stroke-width="1" />
<line x1="86" y1="305.84" x2="84.2" y2="305.84" stroke="#555" stroke-width="1" />
<line x1="295.5" y1="305.84" x2="297.3" y2="305.84" stroke="#555" stroke-width="1" />
<line x1="86" y1="294" x2="82.8" y2="294" stroke="#555" stroke-width="1" />
<line x1="295.5" y1="294" x2="298.7" y2="294" stroke="#555" stroke-width="1" />
<line x1="121" y1="483.5" x2="121" y2="486.7" stroke="#555" stroke-width="1" />
<line x1="121" y1="294" x2="121" y2="290.8" stroke="#555" stroke-width="1" />
<line x1="190.8" y1="483.5" x2="190.8" y2="486.7" stroke="#555" stroke-width="1" />
<line x1="190.8" y1="294" x2="190.8" y2="290.8" stroke="#555" stroke-width="1" />
<line x1="260.5" y1="483.5" x2="260.5" y2="486.7" stroke="#555" stroke-width="1" />
<line x1="260.5" y1="294" x2="260.5" y2="290.8" stroke="#555" stroke-width="1" />
<line x1="155.9" y1="483.5" x2="155.9" y2="485.3" stroke="#555" stroke-width="1" />
<line x1="155.9" y1="294" x2="155.9" y2="292.2" stroke="#555" stroke-width="1" />
<line x1="225.7" y1="483.5" x2="225.7" y2="485.3" stroke="#555" stroke-width="1" />
<line x1="225.7" y1="294" x2="225.7" y2="292.2" stroke="#555" stroke-width="1" />
<text x="80.9" y="298.1" font-size="12" font-family='"Liberation Sans", sans-serif' text-anchor="end" fill="#000" >20</text>
<text x="80.9" y="321.79" font-size="12" font-family='"Liberation Sans", sans-serif' text-anchor="end" fill="#000" >15</text>
<text x="80.9" y="345.48" font-size="12" font-family='"Liberation Sans", sans-serif' text-anchor="end" fill="#000" >10</text>
<text x="80.9" y="369.16" font-size="12" font-family='"Liberation Sans", sans-serif' text-anchor="end" fill="#000" >5</text>
<text x="80.9" y="392.85" font-size="12" font-family='"Liberation Sans", sans-serif' text-anchor="end" fill="#000" >0</text>
<text x="80.9" y="416.54" font-size="12" font-family='"Liberation Sans", sans-serif' text-anchor="end" fill="#000" >-5</text>
<text x="80.9" y="440.23" font-size="12" font-family='"Liberation Sans", sans-serif' text-anchor="end" fill="#000" >-10</text>
<text x="80.9" y="463.91" font-size="12" font-family='"Liberation Sans", sans-serif' text-anchor="end" fill="#000" >-15</text>
<text x="80.9" y="487.6" font-size="12" font-family='"Liberation Sans", sans-serif' text-anchor="end" fill="#000" >-20</text>
<text x="301.6" y="298.8" font-size="12.2" font-family='"Liberation Sans", sans-serif' text-anchor="start" fill="#000" >15.8</text>
<text x="301.6" y="322.49" font-size="12.2" font-family='"Liberation Sans", sans-serif' text-anchor="start" fill="#000" >11.9</text>
<text x="301.6" y="346.18" font-size="12.2" font-family='"Liberation Sans", sans-serif' text-anchor="start" fill="#000" >7.9</text>
<text x="301.6" y="369.86" font-size="12.2" font-family='"Liberation Sans", sans-serif' text-anchor="start" fill="#000" >4.0</text>
<text x="301.6" y="393.55" font-size="12.2" font-family='"Liberation Sans", sans-serif' text-anchor="start" fill="#000" >0.0</text>
<text x="301.6" y="417.24" font-size="12.2" font-family='"Liberation Sans", sans-serif' text-anchor="start" fill="#000" >-4.0</text>
<text x="301.6" y="440.93" font-size="12.2" font-family='"Liberation Sans", sans-serif' text-anchor="start" fill="#000" >-7.9</text>
<text x="301.6" y="464.61" font-size="12.2" font-family='"Liberation Sans", sans-serif' text-anchor="start" fill="#000" >-11.9</text>
<text x="301.6" y="488.3" font-size="12.2" font-family='"Liberation Sans", sans-serif' text-anchor="start" fill="#000" >-15.8</text>
<rect x="148.5" y="425.8" width="84" height="51.5" fill="#fff" stroke="#999" stroke-width="1.4"/>
<text x="152.2" y="438.8" font-size="14.8" font-family='"Liberation Serif", serif'><tspan font-style="italic">I</tspan><tspan font-size="10" dy="3.5" font-style="italic">S/D</tspan><tspan dy="-3.5"> &#8776; 98 &#956;A</tspan></text>
<text x="152.2" y="456.4" font-size="14.8" font-family='"Liberation Serif", serif'><tspan font-style="italic">B</tspan> = 9 T</text>
<text x="152.2" y="473.7" font-size="14.8" font-family='"Liberation Serif", serif'><tspan font-style="italic">T</tspan> = 1.7 K</text>
<line x1="121" y1="368.38" x2="121" y2="424.28" stroke="#1a1a1a" stroke-width="1.6" />
<line x1="118.8" y1="368.38" x2="123.2" y2="368.38" stroke="#1a1a1a" stroke-width="1.2" />
<line x1="118.8" y1="424.28" x2="123.2" y2="424.28" stroke="#1a1a1a" stroke-width="1.2" />
<rect x="118.2" y="393.06" width="5.6" height="5.6" fill="#000"/>
<line x1="190.8" y1="365.06" x2="190.8" y2="410.54" stroke="#1a1a1a" stroke-width="1.6" />
<line x1="188.6" y1="365.06" x2="193" y2="365.06" stroke="#1a1a1a" stroke-width="1.2" />
<line x1="188.6" y1="410.54" x2="193" y2="410.54" stroke="#1a1a1a" stroke-width="1.2" />
<rect x="188" y="385" width="5.6" height="5.6" fill="#000"/>
<line x1="260.5" y1="354.17" x2="260.5" y2="420.02" stroke="#1a1a1a" stroke-width="1.6" />
<line x1="258.3" y1="354.17" x2="262.7" y2="354.17" stroke="#1a1a1a" stroke-width="1.2" />
<line x1="258.3" y1="420.02" x2="262.7" y2="420.02" stroke="#1a1a1a" stroke-width="1.2" />
<rect x="257.7" y="384.77" width="5.6" height="5.6" fill="#000"/>
<text x="110.9" y="498.4" font-size="15" font-family='"Liberation Serif", serif'><tspan font-style="italic">R</tspan><tspan font-size="10.5" dy="2.6">1,2</tspan></text>
<text x="176.9" y="498.4" font-size="15" font-family='"Liberation Serif", serif'><tspan font-style="italic">R</tspan><tspan font-size="10.5" dy="2.6">2,3</tspan></text>
<text x="243.6" y="498.4" font-size="15" font-family='"Liberation Serif", serif'><tspan font-style="italic">R</tspan><tspan font-size="10.5" dy="2.6">1,3</tspan></text>
<text x="0" y="0" font-size="14.2" font-family='"Liberation Sans", sans-serif' text-anchor="middle" fill="#000" transform="translate(61.8,388) rotate(-90)">potential difference / nV</text>
<text x="0" y="0" font-size="14" font-family='"Liberation Sans", sans-serif' text-anchor="middle" fill="#000" transform="translate(342.6,386.5) rotate(-90)">rel. potential deviation / nV/V</text>
<line x1="513" y1="447.05" x2="724.4" y2="447.05" stroke="#f2f2f2" stroke-width="1" />
<line x1="513" y1="415.95" x2="724.4" y2="415.95" stroke="#f2f2f2" stroke-width="1" />
<line x1="513" y1="384.85" x2="724.4" y2="384.85" stroke="#f2f2f2" stroke-width="1" />
<line x1="513" y1="353.75" x2="724.4" y2="353.75" stroke="#f2f2f2" stroke-width="1" />
<line x1="513" y1="322.65" x2="724.4" y2="322.65" stroke="#f2f2f2" stroke-width="1" />
<line x1="583.45" y1="291.55" x2="583.45" y2="478.15" stroke="#f2f2f2" stroke-width="1" />
<line x1="653.95" y1="291.55" x2="653.95" y2="478.15" stroke="#f2f2f2" stroke-width="1" />
<line x1="513" y1="462.6" x2="724.4" y2="462.6" stroke="#c6c6c6" stroke-width="1" />
<line x1="513" y1="431.5" x2="724.4" y2="431.5" stroke="#c6c6c6" stroke-width="1" />
<line x1="513" y1="400.4" x2="724.4" y2="400.4" stroke="#c6c6c6" stroke-width="1" />
<line x1="513" y1="369.3" x2="724.4" y2="369.3" stroke="#c6c6c6" stroke-width="1" />
<line x1="513" y1="338.2" x2="724.4" y2="338.2" stroke="#c6c6c6" stroke-width="1" />
<line x1="513" y1="307.1" x2="724.4" y2="307.1" stroke="#c6c6c6" stroke-width="1" />
<line x1="548.2" y1="291.55" x2="548.2" y2="478.15" stroke="#c6c6c6" stroke-width="1" />
<line x1="618.7" y1="291.55" x2="618.7" y2="478.15" stroke="#c6c6c6" stroke-width="1" />
<line x1="689.2" y1="291.55" x2="689.2" y2="478.15" stroke="#c6c6c6" stroke-width="1" />
<rect x="513" y="291.55" width="211.4" height="186.6" fill="none" stroke="#8a8a8a" stroke-width="1.7"/>
<line x1="513" y1="478.15" x2="511.2" y2="478.15" stroke="#555" stroke-width="1" />
<line x1="724.4" y1="478.15" x2="726.2" y2="478.15" stroke="#555" stroke-width="1" />
<line x1="513" y1="462.6" x2="509.8" y2="462.6" stroke="#555" stroke-width="1" />
<line x1="724.4" y1="462.6" x2="727.6" y2="462.6" stroke="#555" stroke-width="1" />
<line x1="513" y1="447.05" x2="511.2" y2="447.05" stroke="#555" stroke-width="1" />
<line x1="724.4" y1="447.05" x2="726.2" y2="447.05" stroke="#555" stroke-width="1" />
<line x1="513" y1="431.5" x2="509.8" y2="431.5" stroke="#555" stroke-width="1" />
<line x1="724.4" y1="431.5" x2="727.6" y2="431.5" stroke="#555" stroke-width="1" />
<line x1="513" y1="415.95" x2="511.2" y2="415.95" stroke="#555" stroke-width="1" />
<line x1="724.4" y1="415.95" x2="726.2" y2="415.95" stroke="#555" stroke-width="1" />
<line x1="513" y1="400.4" x2="509.8" y2="400.4" stroke="#555" stroke-width="1" />
<line x1="724.4" y1="400.4" x2="727.6" y2="400.4" stroke="#555" stroke-width="1" />
<line x1="513" y1="384.85" x2="511.2" y2="384.85" stroke="#555" stroke-width="1" />
<line x1="724.4" y1="384.85" x2="726.2" y2="384.85" stroke="#555" stroke-width="1" />
<line x1="513" y1="369.3" x2="509.8" y2="369.3" stroke="#555" stroke-width="1" />
<line x1="724.4" y1="369.3" x2="727.6" y2="369.3" stroke="#555" stroke-width="1" />
<line x1="513" y1="353.75" x2="511.2" y2="353.75" stroke="#555" stroke-width="1" />
<line x1="724.4" y1="353.75" x2="726.2" y2="353.75" stroke="#555" stroke-width="1" />
<line x1="513" y1="338.2" x2="509.8" y2="338.2" stroke="#555" stroke-width="1" />
<line x1="724.4" y1="338.2" x2="727.6" y2="338.2" stroke="#555" stroke-width="1" />
<line x1="513" y1="322.65" x2="511.2" y2="322.65" stroke="#555" stroke-width="1" />
<line x1="724.4" y1="322.65" x2="726.2" y2="322.65" stroke="#555" stroke-width="1" />
<line x1="513" y1="307.1" x2="509.8" y2="307.1" stroke="#555" stroke-width="1" />
<line x1="724.4" y1="307.1" x2="727.6" y2="307.1" stroke="#555" stroke-width="1" />
<line x1="513" y1="291.55" x2="511.2" y2="291.55" stroke="#555" stroke-width="1" />
<line x1="724.4" y1="291.55" x2="726.2" y2="291.55" stroke="#555" stroke-width="1" />
<line x1="548.2" y1="478.15" x2="548.2" y2="481.35" stroke="#555" stroke-width="1" />
<line x1="548.2" y1="291.55" x2="548.2" y2="288.35" stroke="#555" stroke-width="1" />
<line x1="618.7" y1="478.15" x2="618.7" y2="481.35" stroke="#555" stroke-width="1" />
<line x1="618.7" y1="291.55" x2="618.7" y2="288.35" stroke="#555" stroke-width="1" />
<line x1="689.2" y1="478.15" x2="689.2" y2="481.35" stroke="#555" stroke-width="1" />
<line x1="689.2" y1="291.55" x2="689.2" y2="288.35" stroke="#555" stroke-width="1" />
<line x1="583.45" y1="478.15" x2="583.45" y2="479.95" stroke="#555" stroke-width="1" />
<line x1="583.45" y1="291.55" x2="583.45" y2="289.75" stroke="#555" stroke-width="1" />
<line x1="653.95" y1="478.15" x2="653.95" y2="479.95" stroke="#555" stroke-width="1" />
<line x1="653.95" y1="291.55" x2="653.95" y2="289.75" stroke="#555" stroke-width="1" />
<text x="507.6" y="311.2" font-size="12" font-family='"Liberation Sans", sans-serif' text-anchor="end" fill="#000" >3</text>
<text x="507.6" y="342.3" font-size="12" font-family='"Liberation Sans", sans-serif' text-anchor="end" fill="#000" >2</text>
<text x="507.6" y="373.4" font-size="12" font-family='"Liberation Sans", sans-serif' text-anchor="end" fill="#000" >1</text>
<text x="507.6" y="404.5" font-size="12" font-family='"Liberation Sans", sans-serif' text-anchor="end" fill="#000" >0</text>
<text x="507.6" y="435.6" font-size="12" font-family='"Liberation Sans", sans-serif' text-anchor="end" fill="#000" >-1</text>
<text x="507.6" y="466.7" font-size="12" font-family='"Liberation Sans", sans-serif' text-anchor="end" fill="#000" >-2</text>
<text x="729.5" y="311.9" font-size="12.2" font-family='"Liberation Sans", sans-serif' text-anchor="start" fill="#000" >39</text>
<text x="729.5" y="343" font-size="12.2" font-family='"Liberation Sans", sans-serif' text-anchor="start" fill="#000" >26</text>
<text x="729.5" y="374.1" font-size="12.2" font-family='"Liberation Sans", sans-serif' text-anchor="start" fill="#000" >13</text>
<text x="729.5" y="405.2" font-size="12.2" font-family='"Liberation Sans", sans-serif' text-anchor="start" fill="#000" >0</text>
<text x="729.5" y="436.3" font-size="12.2" font-family='"Liberation Sans", sans-serif' text-anchor="start" fill="#000" >-13</text>
<text x="729.5" y="467.4" font-size="12.2" font-family='"Liberation Sans", sans-serif' text-anchor="start" fill="#000" >-26</text>
<rect x="573.1" y="422" width="91.1" height="53.2" fill="#fff" stroke="#999" stroke-width="1.4"/>
<text x="576.8" y="435.9" font-size="14.8" font-family='"Liberation Serif", serif'><tspan font-style="italic">I</tspan><tspan font-size="10" dy="3.5" font-style="italic">S/D</tspan><tspan dy="-3.5"> = 38.7 &#956;A</tspan></text>
<text x="576.8" y="452.9" font-size="14.8" font-family='"Liberation Serif", serif'><tspan font-style="italic">B</tspan> = 9 T</text>
<text x="576.8" y="470.5" font-size="14.8" font-family='"Liberation Serif", serif'><tspan font-style="italic">T</tspan> = 1.7 K</text>
<line x1="548.2" y1="342.86" x2="548.2" y2="401.95" stroke="#1a1a1a" stroke-width="1.6" />
<line x1="546" y1="342.86" x2="550.4" y2="342.86" stroke="#1a1a1a" stroke-width="1.2" />
<line x1="546" y1="401.95" x2="550.4" y2="401.95" stroke="#1a1a1a" stroke-width="1.2" />
<rect x="545.4" y="369.61" width="5.6" height="5.6" fill="#000"/>
<line x1="618.7" y1="317.05" x2="618.7" y2="371.48" stroke="#1a1a1a" stroke-width="1.6" />
<line x1="616.5" y1="317.05" x2="620.9" y2="317.05" stroke="#1a1a1a" stroke-width="1.2" />
<line x1="616.5" y1="371.48" x2="620.9" y2="371.48" stroke="#1a1a1a" stroke-width="1.2" />
<rect x="615.9" y="341.62" width="5.6" height="5.6" fill="#000"/>
<line x1="689.2" y1="389.51" x2="689.2" y2="461.04" stroke="#1a1a1a" stroke-width="1.6" />
<line x1="687" y1="389.51" x2="691.4" y2="389.51" stroke="#1a1a1a" stroke-width="1.2" />
<line x1="687" y1="461.04" x2="691.4" y2="461.04" stroke="#1a1a1a" stroke-width="1.2" />
<rect x="686.4" y="422.48" width="5.6" height="5.6" fill="#000"/>
<text x="540.3" y="494.5" font-size="15" font-family='"Liberation Serif", serif'><tspan font-style="italic">R</tspan><tspan font-size="10.5" dy="2.6">1,2</tspan></text>
<text x="606.9" y="494.5" font-size="15" font-family='"Liberation Serif", serif'><tspan font-style="italic">R</tspan><tspan font-size="10.5" dy="2.6">2,3</tspan></text>
<text x="672.9" y="494.5" font-size="15" font-family='"Liberation Serif", serif'><tspan font-style="italic">R</tspan><tspan font-size="10.5" dy="2.6">1,3</tspan></text>
<text x="0" y="0" font-size="14" font-family='"Liberation Sans", sans-serif' text-anchor="middle" fill="#000" transform="translate(482,381.5) rotate(-90)">rel. deviation from nominal / n&#937;/&#937;</text>
<text x="0" y="0" font-size="14" font-family='"Liberation Sans", sans-serif' text-anchor="middle" fill="#000" transform="translate(763.3,383.7) rotate(-90)">deviation from nominal / <tspan font-family="Liberation Serif, serif">&#956;</tspan>&#937;</text>
<rect x="70.2" y="56.4" width="25.3" height="177.8" fill="#a5a5a5" stroke="#707070" stroke-width="0.9"/>
<rect x="71.5" y="57.7" width="22.7" height="175.2" fill="none" stroke="#b4b4b4" stroke-width="1.4"/>
<path d="M71.2,56.9 L82.8,145.6 L94.5,233.7 M94.5,56.9 L82.8,145.6 L71.2,233.7" fill="none" stroke="#111" stroke-width="1.1"/>
<rect x="323.3" y="56.4" width="24.4" height="177.8" fill="#a5a5a5" stroke="#707070" stroke-width="0.9"/>
<rect x="324.6" y="57.7" width="21.8" height="175.2" fill="none" stroke="#b4b4b4" stroke-width="1.4"/>
<path d="M324.3,56.9 L335.4,145 L346.7,233.7 M346.7,56.9 L335.4,145 L324.3,233.7" fill="none" stroke="#111" stroke-width="1.1"/>
<rect x="95.5" y="56.3" width="96" height="29.5" fill="#f2f2f2" stroke="#dedede" stroke-width="0.8"/>
<rect x="226.8" y="56.3" width="96.5" height="29.5" fill="#f2f2f2" stroke="#dedede" stroke-width="0.8"/>
<rect x="95.5" y="130.8" width="96" height="29.5" fill="#f2f2f2" stroke="#dedede" stroke-width="0.8"/>
<rect x="226.8" y="130.8" width="96.5" height="29.5" fill="#f2f2f2" stroke="#dedede" stroke-width="0.8"/>
<rect x="95.5" y="204.7" width="96" height="29.5" fill="#f2f2f2" stroke="#dedede" stroke-width="0.8"/>
<rect x="226.8" y="204.7" width="96.5" height="29.5" fill="#f2f2f2" stroke="#dedede" stroke-width="0.8"/>
<path d="M190.8,18.3 H82.7 V52" fill="none" stroke="#000" stroke-width="1.8" stroke-dasharray="3 1.9"/>
<path d="M227.2,18.3 H336.1 V52" fill="none" stroke="#000" stroke-width="1.8" stroke-dasharray="3 1.9"/>
<path d="M198.2,52 V40 H23.9 V128.3" fill="none" stroke="#ff0000" stroke-width="2" stroke-dasharray="3 2"/>
<path d="M23.9,163.1 V249.5 H208.7 V238.5" fill="none" stroke="#ff0000" stroke-width="2" stroke-dasharray="3 2"/>
<path d="M209.3,52 V40 H388.7 V127.1" fill="none" stroke="#ff0000" stroke-width="2" stroke-dasharray="3 2"/>
<path d="M388.7,161.9 V249.5 H220.1 V238.5" fill="none" stroke="#ff0000" stroke-width="2" stroke-dasharray="3 2"/>
<path d="M67.4,104.3 H209.3 V90" fill="none" stroke="#0000ff" stroke-width="1.9" stroke-dasharray="3.3 1.7"/>
<path d="M67.4,112.2 H198.3 V126.5" fill="none" stroke="#0000ff" stroke-width="1.9" stroke-dasharray="3.3 1.7"/>
<path d="M220.4,90 V104.3 H352" fill="none" stroke="#0000ff" stroke-width="1.9" stroke-dasharray="3.3 1.7"/>
<path d="M209.3,126.5 V112.2 H352" fill="none" stroke="#0000ff" stroke-width="1.9" stroke-dasharray="3.3 1.7"/>
<path d="M67.2,178.3 H208.7 V165.5" fill="none" stroke="#ff00ff" stroke-width="1.9" stroke-dasharray="3.3 1.7"/>
<path d="M67.2,186.2 H198.3 V200" fill="none" stroke="#ff00ff" stroke-width="1.9" stroke-dasharray="3.3 1.7"/>
<path d="M219.6,165.5 V178.3 H350.5" fill="none" stroke="#ff00ff" stroke-width="1.9" stroke-dasharray="3.3 1.7"/>
<path d="M209.2,200 V186.2 H350.5" fill="none" stroke="#ff00ff" stroke-width="1.9" stroke-dasharray="3.3 1.7"/>
<path d="M189.1,58.5 H108.9 A10.5,10.5 0 0 0 98.4,69 V83.6" fill="none" stroke="#1f5c9c" stroke-width="1.8" stroke-dasharray="4.8 2.4"/>
<path d="M98.4,83.6 H178.6 A10.5,10.5 0 0 0 189.1,73.1 V61.5" fill="none" stroke="#d9782a" stroke-width="1.8" stroke-dasharray="4.8 2.4"/>
<circle cx="98.4" cy="83.3" r="2.3" fill="#d9782a"/>
<path d="M189.1,55.9 L186.7,60.3 L191.5,60.3 Z" fill="#d9782a"/>
<path d="M320.3,58.5 H239.8 A10.5,10.5 0 0 0 229.3,69 V80.6" fill="none" stroke="#d9782a" stroke-width="1.8" stroke-dasharray="4.8 2.4"/>
<path d="M230.3,83.6 H309.8 A10.5,10.5 0 0 0 320.3,73.1 V58.5" fill="none" stroke="#1f5c9c" stroke-width="1.8" stroke-dasharray="4.8 2.4"/>
<circle cx="320.3" cy="58.8" r="2.3" fill="#d9782a"/>
<path d="M229.3,86.2 L226.9,81.8 L231.7,81.8 Z" fill="#d9782a"/>
<path d="M189.1,133 H108.9 A10.5,10.5 0 0 0 98.4,143.5 V158.1" fill="none" stroke="#1f5c9c" stroke-width="1.8" stroke-dasharray="4.8 2.4"/>
<path d="M98.4,158.1 H178.6 A10.5,10.5 0 0 0 189.1,147.6 V136" fill="none" stroke="#d9782a" stroke-width="1.8" stroke-dasharray="4.8 2.4"/>
<circle cx="98.4" cy="157.8" r="2.3" fill="#d9782a"/>
<path d="M189.1,130.4 L186.7,134.8 L191.5,134.8 Z" fill="#d9782a"/>
<path d="M320.3,133 H239.8 A10.5,10.5 0 0 0 229.3,143.5 V155.1" fill="none" stroke="#d9782a" stroke-width="1.8" stroke-dasharray="4.8 2.4"/>
<path d="M230.3,158.1 H309.8 A10.5,10.5 0 0 0 320.3,147.6 V133" fill="none" stroke="#1f5c9c" stroke-width="1.8" stroke-dasharray="4.8 2.4"/>
<circle cx="320.3" cy="133.3" r="2.3" fill="#d9782a"/>
<path d="M229.3,160.7 L226.9,156.3 L231.7,156.3 Z" fill="#d9782a"/>
<path d="M189.1,206.9 H108.9 A10.5,10.5 0 0 0 98.4,217.4 V232" fill="none" stroke="#1f5c9c" stroke-width="1.8" stroke-dasharray="4.8 2.4"/>
<path d="M98.4,232 H178.6 A10.5,10.5 0 0 0 189.1,221.5 V209.9" fill="none" stroke="#d9782a" stroke-width="1.8" stroke-dasharray="4.8 2.4"/>
<circle cx="98.4" cy="231.7" r="2.3" fill="#d9782a"/>
<path d="M189.1,204.3 L186.7,208.7 L191.5,208.7 Z" fill="#d9782a"/>
<path d="M320.3,206.9 H239.8 A10.5,10.5 0 0 0 229.3,217.4 V229" fill="none" stroke="#d9782a" stroke-width="1.8" stroke-dasharray="4.8 2.4"/>
<path d="M230.3,232 H309.8 A10.5,10.5 0 0 0 320.3,221.5 V206.9" fill="none" stroke="#1f5c9c" stroke-width="1.8" stroke-dasharray="4.8 2.4"/>
<circle cx="320.3" cy="207.2" r="2.3" fill="#d9782a"/>
<path d="M229.3,234.6 L226.9,230.2 L231.7,230.2 Z" fill="#d9782a"/>
<path d="M91.5,56.1 V46.5 H144.5 V49.1 M119.2,46.5 V49.1" stroke="#000" stroke-width="1.5" fill="none"/>
<path d="M214.1,56.1 V46.5 H275.5 V49.1 M250.7,46.5 V49.1" stroke="#000" stroke-width="1.5" fill="none"/>
<path d="M203.7,86 V94.8 H143.2 V93 M167.6,94.8 V93" stroke="#000" stroke-width="1.5" fill="none"/>
<path d="M323.3,94.8 H274.6 V93 M298.9,94.8 V93" stroke="#000" stroke-width="1.5" fill="none"/>
<rect x="115.2" y="48.8" width="8" height="7.5" fill="#a9a9a9" stroke="#999" stroke-width="0.5"/>
<path d="M115.6,49.2 L122.8,55.9 M115.6,55.9 L122.8,49.2" stroke="#000" stroke-width="1.2"/>
<rect x="139.6" y="48.8" width="8" height="7.5" fill="#a9a9a9" stroke="#999" stroke-width="0.5"/>
<path d="M140,49.2 L147.2,55.9 M140,55.9 L147.2,49.2" stroke="#000" stroke-width="1.2"/>
<rect x="246.7" y="48.8" width="8" height="7.5" fill="#a9a9a9" stroke="#999" stroke-width="0.5"/>
<path d="M247.1,49.2 L254.3,55.9 M247.1,55.9 L254.3,49.2" stroke="#000" stroke-width="1.2"/>
<rect x="270.8" y="48.8" width="8" height="7.5" fill="#a9a9a9" stroke="#999" stroke-width="0.5"/>
<path d="M271.2,49.2 L278.4,55.9 M271.2,55.9 L278.4,49.2" stroke="#000" stroke-width="1.2"/>
<rect x="139.6" y="85.8" width="8" height="7.5" fill="#a9a9a9" stroke="#999" stroke-width="0.5"/>
<path d="M140,86.2 L147.2,92.9 M140,92.9 L147.2,86.2" stroke="#000" stroke-width="1.2"/>
<rect x="163.6" y="85.8" width="8" height="7.5" fill="#a9a9a9" stroke="#999" stroke-width="0.5"/>
<path d="M164,86.2 L171.2,92.9 M164,92.9 L171.2,86.2" stroke="#000" stroke-width="1.2"/>
<rect x="270.8" y="85.8" width="8" height="7.5" fill="#a9a9a9" stroke="#999" stroke-width="0.5"/>
<path d="M271.2,86.2 L278.4,92.9 M271.2,92.9 L278.4,86.2" stroke="#000" stroke-width="1.2"/>
<rect x="294.9" y="85.8" width="8" height="7.5" fill="#a9a9a9" stroke="#999" stroke-width="0.5"/>
<path d="M295.3,86.2 L302.5,92.9 M295.3,92.9 L302.5,86.2" stroke="#000" stroke-width="1.2"/>
<path d="M95.5,121 H144.5 V123.6 M119.2,121 V123.6" stroke="#000" stroke-width="1.5" fill="none"/>
<path d="M214.1,130.6 V121 H275.5 V123.6 M250.7,121 V123.6" stroke="#000" stroke-width="1.5" fill="none"/>
<path d="M203.7,160.5 V169.3 H143.2 V167.5 M167.6,169.3 V167.5" stroke="#000" stroke-width="1.5" fill="none"/>
<path d="M323.3,169.3 H274.6 V167.5 M298.9,169.3 V167.5" stroke="#000" stroke-width="1.5" fill="none"/>
<rect x="115.2" y="123.3" width="8" height="7.5" fill="#a9a9a9" stroke="#999" stroke-width="0.5"/>
<path d="M115.6,123.7 L122.8,130.4 M115.6,130.4 L122.8,123.7" stroke="#000" stroke-width="1.2"/>
<rect x="139.6" y="123.3" width="8" height="7.5" fill="#a9a9a9" stroke="#999" stroke-width="0.5"/>
<path d="M140,123.7 L147.2,130.4 M140,130.4 L147.2,123.7" stroke="#000" stroke-width="1.2"/>
<rect x="246.7" y="123.3" width="8" height="7.5" fill="#a9a9a9" stroke="#999" stroke-width="0.5"/>
<path d="M247.1,123.7 L254.3,130.4 M247.1,130.4 L254.3,123.7" stroke="#000" stroke-width="1.2"/>
<rect x="270.8" y="123.3" width="8" height="7.5" fill="#a9a9a9" stroke="#999" stroke-width="0.5"/>
<path d="M271.2,123.7 L278.4,130.4 M271.2,130.4 L278.4,123.7" stroke="#000" stroke-width="1.2"/>
<rect x="139.6" y="160.3" width="8" height="7.5" fill="#a9a9a9" stroke="#999" stroke-width="0.5"/>
<path d="M140,160.7 L147.2,167.4 M140,167.4 L147.2,160.7" stroke="#000" stroke-width="1.2"/>
<rect x="163.6" y="160.3" width="8" height="7.5" fill="#a9a9a9" stroke="#999" stroke-width="0.5"/>
<path d="M164,160.7 L171.2,167.4 M164,167.4 L171.2,160.7" stroke="#000" stroke-width="1.2"/>
<rect x="270.8" y="160.3" width="8" height="7.5" fill="#a9a9a9" stroke="#999" stroke-width="0.5"/>
<path d="M271.2,160.7 L278.4,167.4 M271.2,167.4 L278.4,160.7" stroke="#000" stroke-width="1.2"/>
<rect x="294.9" y="160.3" width="8" height="7.5" fill="#a9a9a9" stroke="#999" stroke-width="0.5"/>
<path d="M295.3,160.7 L302.5,167.4 M295.3,167.4 L302.5,160.7" stroke="#000" stroke-width="1.2"/>
<path d="M95.5,194.9 H144.5 V197.5 M119.2,194.9 V197.5" stroke="#000" stroke-width="1.5" fill="none"/>
<path d="M214.1,204.5 V194.9 H275.5 V197.5 M250.7,194.9 V197.5" stroke="#000" stroke-width="1.5" fill="none"/>
<path d="M203.7,234.4 V243.2 H143.2 V241.4 M167.6,243.2 V241.4" stroke="#000" stroke-width="1.5" fill="none"/>
<path d="M327.3,234.2 V243.2 H274.6 V241.4 M298.9,243.2 V241.4" stroke="#000" stroke-width="1.5" fill="none"/>
<rect x="115.2" y="197.2" width="8" height="7.5" fill="#a9a9a9" stroke="#999" stroke-width="0.5"/>
<path d="M115.6,197.6 L122.8,204.3 M115.6,204.3 L122.8,197.6" stroke="#000" stroke-width="1.2"/>
<rect x="139.6" y="197.2" width="8" height="7.5" fill="#a9a9a9" stroke="#999" stroke-width="0.5"/>
<path d="M140,197.6 L147.2,204.3 M140,204.3 L147.2,197.6" stroke="#000" stroke-width="1.2"/>
<rect x="246.7" y="197.2" width="8" height="7.5" fill="#a9a9a9" stroke="#999" stroke-width="0.5"/>
<path d="M247.1,197.6 L254.3,204.3 M247.1,204.3 L254.3,197.6" stroke="#000" stroke-width="1.2"/>
<rect x="270.8" y="197.2" width="8" height="7.5" fill="#a9a9a9" stroke="#999" stroke-width="0.5"/>
<path d="M271.2,197.6 L278.4,204.3 M271.2,204.3 L278.4,197.6" stroke="#000" stroke-width="1.2"/>
<rect x="139.6" y="234.2" width="8" height="7.5" fill="#a9a9a9" stroke="#999" stroke-width="0.5"/>
<path d="M140,234.6 L147.2,241.3 M140,241.3 L147.2,234.6" stroke="#000" stroke-width="1.2"/>
<rect x="163.6" y="234.2" width="8" height="7.5" fill="#a9a9a9" stroke="#999" stroke-width="0.5"/>
<path d="M164,234.6 L171.2,241.3 M164,241.3 L171.2,234.6" stroke="#000" stroke-width="1.2"/>
<rect x="270.8" y="234.2" width="8" height="7.5" fill="#a9a9a9" stroke="#999" stroke-width="0.5"/>
<path d="M271.2,234.6 L278.4,241.3 M271.2,241.3 L278.4,234.6" stroke="#000" stroke-width="1.2"/>
<rect x="294.9" y="234.2" width="8" height="7.5" fill="#a9a9a9" stroke="#999" stroke-width="0.5"/>
<path d="M295.3,234.6 L302.5,241.3 M295.3,241.3 L302.5,234.6" stroke="#000" stroke-width="1.2"/>
<rect x="191.5" y="56.1" width="35.3" height="29.9" fill="#a5a5a5" stroke="#c8c8c8" stroke-width="1"/>
<path d="M192.1,56.7 L226.2,85.4 M192.1,85.4 L226.2,56.7" stroke="#111" stroke-width="1"/>
<circle cx="209.3" cy="71.05" r="12.0" fill="#4472c4" fill-opacity="0.85"/>
<text x="209.5" y="77.15" font-size="18" font-family='"Liberation Serif", serif' fill="#fff" text-anchor="middle">3</text>
<rect x="191.5" y="130.6" width="35.3" height="29.9" fill="#a5a5a5" stroke="#c8c8c8" stroke-width="1"/>
<path d="M192.1,131.2 L226.2,159.9 M192.1,159.9 L226.2,131.2" stroke="#111" stroke-width="1"/>
<circle cx="209.3" cy="145.55" r="12.0" fill="#4472c4" fill-opacity="0.85"/>
<text x="209.5" y="151.65" font-size="18" font-family='"Liberation Serif", serif' fill="#fff" text-anchor="middle">2</text>
<rect x="191.5" y="204.5" width="35.3" height="29.9" fill="#a5a5a5" stroke="#c8c8c8" stroke-width="1"/>
<path d="M192.1,205.1 L226.2,233.8 M192.1,233.8 L226.2,205.1" stroke="#111" stroke-width="1"/>
<circle cx="209.3" cy="219.45" r="12.0" fill="#4472c4" fill-opacity="0.85"/>
<text x="209.5" y="225.55" font-size="18" font-family='"Liberation Serif", serif' fill="#fff" text-anchor="middle">1</text>
<circle cx="82.8" cy="145.6" r="11.6" fill="#4472c4" fill-opacity="0.88"/>
<text x="82.8" y="151.8" font-size="20" font-family='"Liberation Serif", serif' fill="#fff" text-anchor="middle">a</text>
<circle cx="335.4" cy="145" r="11.6" fill="#4472c4" fill-opacity="0.88"/>
<text x="335.4" y="151.2" font-size="20" font-family='"Liberation Serif", serif' fill="#fff" text-anchor="middle">b</text>
<circle cx="198.2" cy="56.4" r="3.4" fill="#4472c4" stroke="#ff0000" stroke-width="2.4"/>
<circle cx="209.3" cy="56.4" r="3.4" fill="#4472c4" stroke="#ff0000" stroke-width="2.4"/>
<circle cx="209.3" cy="86.2" r="3.4" fill="#4472c4" stroke="#0000ff" stroke-width="2.4"/>
<circle cx="220.4" cy="86.2" r="3.4" fill="#4472c4" stroke="#0000ff" stroke-width="2.4"/>
<circle cx="198.3" cy="130.8" r="3.4" fill="#4472c4" stroke="#0000ff" stroke-width="2.4"/>
<circle cx="209.2" cy="130.8" r="3.4" fill="#4472c4" stroke="#0000ff" stroke-width="2.4"/>
<circle cx="208.7" cy="160.8" r="3.4" fill="#4472c4" stroke="#ff00ff" stroke-width="2.4"/>
<circle cx="219.5" cy="160.8" r="3.4" fill="#4472c4" stroke="#ff00ff" stroke-width="2.4"/>
<circle cx="198.3" cy="204.7" r="3.4" fill="#4472c4" stroke="#ff00ff" stroke-width="2.4"/>
<circle cx="209.2" cy="204.7" r="3.4" fill="#4472c4" stroke="#ff00ff" stroke-width="2.4"/>
<circle cx="208.7" cy="234.6" r="3.4" fill="#4472c4" stroke="#ff0000" stroke-width="2.4"/>
<circle cx="220.1" cy="234.6" r="3.4" fill="#4472c4" stroke="#ff0000" stroke-width="2.4"/>
<circle cx="82.7" cy="56.9" r="3.3" fill="#4472c4" stroke="#000" stroke-width="2.5"/>
<circle cx="336.1" cy="56.7" r="3.3" fill="#4472c4" stroke="#000" stroke-width="2.5"/>
<circle cx="209" cy="18.3" r="18.2" fill="#fff" stroke="#000" stroke-width="1.6"/>
<text x="209.2" y="24.6" font-size="20" font-style="italic" font-family='"Liberation Serif", serif' fill="#000" text-anchor="middle">U<tspan font-size="12.8" dy="2.7">a,b</tspan></text>
<circle cx="50" cy="107.8" r="17.4" fill="#fff" stroke="#0000ff" stroke-width="1.6"/>
<text x="50.2" y="114.1" font-size="20" font-style="italic" font-family='"Liberation Serif", serif' fill="#0000ff" text-anchor="middle">I<tspan font-size="12.8" dy="2.7">2,3</tspan></text>
<line x1="29.1" y1="120.2" x2="29.1" y2="100.6" stroke="#0000ff" stroke-width="1.5"/>
<path d="M29.1,96.6 L26.2,102.8 L32,102.8 Z" fill="#0000ff"/>
<circle cx="23.9" cy="145.7" r="17.4" fill="#fff" stroke="#ff0000" stroke-width="1.6"/>
<text x="24.1" y="152" font-size="20" font-style="italic" font-family='"Liberation Serif", serif' fill="#ff0000" text-anchor="middle">I<tspan font-size="12.8" dy="2.7">1,3</tspan></text>
<line x1="3.8" y1="156.3" x2="3.8" y2="136.8" stroke="#ff0000" stroke-width="1.5"/>
<path d="M3.8,132.8 L0.9,139 L6.7,139 Z" fill="#ff0000"/>
<circle cx="49.8" cy="183.4" r="17.4" fill="#fff" stroke="#ff00ff" stroke-width="1.6"/>
<text x="50" y="189.7" font-size="20" font-style="italic" font-family='"Liberation Serif", serif' fill="#ff00ff" text-anchor="middle">I<tspan font-size="12.8" dy="2.7">1,2</tspan></text>
<line x1="28.7" y1="194" x2="28.7" y2="174.2" stroke="#ff00ff" stroke-width="1.5"/>
<path d="M28.7,170.2 L25.8,176.4 L31.6,176.4 Z" fill="#ff00ff"/>
<circle cx="369" cy="107.8" r="17.4" fill="#fff" stroke="#0000ff" stroke-width="1.6"/>
<text x="369.2" y="114.1" font-size="20" font-style="italic" font-family='"Liberation Serif", serif' fill="#0000ff" text-anchor="middle">U<tspan font-size="12.8" dy="2.7">2,3</tspan></text>
<circle cx="388.7" cy="144.5" r="17.4" fill="#fff" stroke="#ff0000" stroke-width="1.6"/>
<text x="388.9" y="150.8" font-size="20" font-style="italic" font-family='"Liberation Serif", serif' fill="#ff0000" text-anchor="middle">U<tspan font-size="12.8" dy="2.7">1,3</tspan></text>
<circle cx="367.9" cy="183.5" r="17.4" fill="#fff" stroke="#ff00ff" stroke-width="1.6"/>
<text x="368.1" y="189.8" font-size="20" font-style="italic" font-family='"Liberation Serif", serif' fill="#ff00ff" text-anchor="middle">U<tspan font-size="12.8" dy="2.7">1,2</tspan></text>
<text x="359.2" y="35.9" font-size="15.2" font-style="italic" font-family='"Liberation Sans", sans-serif' fill="#4e8a30" stroke="#4e8a30" stroke-width="0.45">B</text>
<line x1="358.9" y1="20.79" x2="368.11" y2="20.79" stroke="#4e8a30" stroke-width="1.5"/>
<path d="M370.65,20.79 L365.3,17.59 L365.3,23.99 Z" fill="#4e8a30"/>
<circle cx="378.2" cy="29.9" r="6.3" fill="none" stroke="#4e8a30" stroke-width="1.4"/>
<circle cx="378.2" cy="29.9" r="1.5" fill="#4e8a30"/>
<text x="2.5" y="24.8" font-size="20.5" font-weight="bold" font-family='"Liberation Serif", serif'>a)</text>
<text x="416.3" y="22.2" font-size="20.5" font-weight="bold" font-family='"Liberation Serif", serif'>b)</text>
<text x="4" y="277.3" font-size="20.5" font-weight="bold" font-family='"Liberation Serif", serif'>c)</text>
<text x="424.5" y="280.6" font-size="20.5" font-weight="bold" font-family='"Liberation Serif", serif'>d)</text>
</svg>
</body></html>
